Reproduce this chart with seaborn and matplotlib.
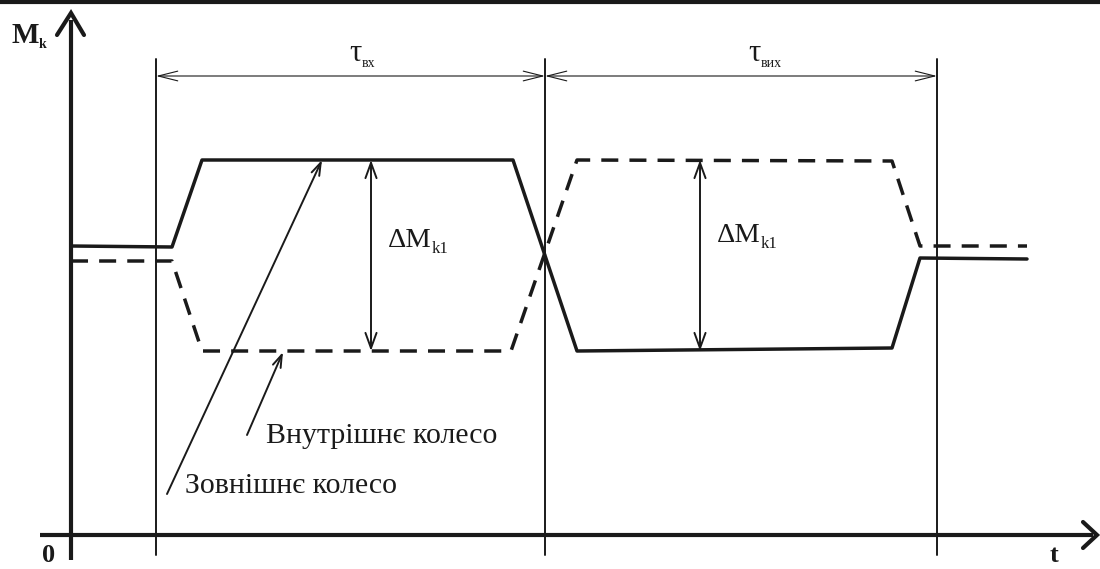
import pandas as pd
import matplotlib.pyplot as plt
import seaborn as sns

# breakpoints of the torque curves (t, M in drawing units, origin at axis crossing)
t_outer = [71, 172, 202, 513, 577, 892, 920, 1027]
m_outer = [289, 288, 375, 375, 184, 187, 277, 276]
t_inner = [71, 172, 202, 511, 577, 892, 920, 1027]
m_inner = [274, 274, 184, 184, 375, 374, 289, 289]

# interval boundaries on the time axis
t_bounds = [156, 545, 937]
interval_labels = ["вх", "вих"]
dm_t = [371, 700]
dm_low, dm_high = 184, 375

sns.set_style("white")
plt.rcParams['font.family'] = ['Liberation Serif', 'DejaVu Serif']

df_outer = pd.DataFrame({"t": t_outer, "M": m_outer})
df_inner = pd.DataFrame({"t": t_inner, "M": m_inner})

fig = plt.figure(figsize=(11, 5.69), dpi=100)
ax = fig.add_axes([0, 0, 1, 1])
ax.set_xlim(0, 1100)
ax.set_ylim(-34, 535)
ax.axis("off")

ink = "#1a1a1a"

sns.lineplot(data=df_outer, x="t", y="M", sort=False, color=ink, lw=2.5, ax=ax)
sns.lineplot(data=df_inner, x="t", y="M", sort=False, color=ink, lw=2.5, ax=ax,
             dashes=False, linestyle=(0, (4.9, 3.2)))

# top border strip
ax.axhline(533.5, color=ink, lw=3)

# axes with open arrows
ax.plot([71, 71], [-25, 515], color=ink, lw=3, solid_capstyle="butt")
ax.plot([57, 71, 84], [500, 522, 500], color=ink, lw=3, solid_joinstyle="miter")
ax.plot([40, 1093], [0, 0], color=ink, lw=3, solid_capstyle="butt")
ax.plot([1083, 1097, 1083], [13, 0, -13], color=ink, lw=3, solid_joinstyle="miter")

# vertical boundaries
for tb in t_bounds:
    ax.plot([tb, tb], [-20, 476], color=ink, lw=1.4)

# dimension lines for the intervals
for (a, b), lab in zip(zip(t_bounds[:-1], t_bounds[1:]), interval_labels):
    ax.annotate("", xy=(b, 459), xytext=(a, 459),
                arrowprops=dict(arrowstyle="<->,head_length=1.4,head_width=0.35",
                                color=ink, lw=0.8, shrinkA=0, shrinkB=0))
xs_tau = [349, 748]
for xt, lab in zip(xs_tau, interval_labels):
    ax.text(xt, 474, "τ", fontsize=22, color=ink, va="baseline", ha="left")
    ax.text(xt + 13, 468, lab, fontsize=10, color=ink, va="baseline", ha="left")

# delta M arrows
for xd in dm_t:
    ax.annotate("", xy=(xd, dm_high), xytext=(xd, dm_low),
                arrowprops=dict(arrowstyle="<->,head_length=1.1,head_width=0.4",
                                color=ink, lw=1.4, shrinkA=0, shrinkB=0))
for xl, yb in [(388, 288), (717, 293)]:
    ax.text(xl, yb, "ΔM", fontsize=20.5, color=ink, va="baseline", ha="left")
    ax.text(xl + 44, yb - 6, "k1", fontsize=12, color=ink, va="baseline", ha="left")

# leader arrows
ax.annotate("", xy=(322, 375), xytext=(167, 41),
            arrowprops=dict(arrowstyle="->,head_length=0.9,head_width=0.3",
                            color=ink, lw=1.4, shrinkA=0, shrinkB=0))
ax.annotate("", xy=(283, 183), xytext=(247, 100),
            arrowprops=dict(arrowstyle="->,head_length=0.9,head_width=0.3",
                            color=ink, lw=1.4, shrinkA=0, shrinkB=0))
ax.text(266, 92, "Внутрішнє колесо", fontsize=21.5, color=ink, va="baseline", ha="left")
ax.text(185, 42, "Зовнішнє колесо", fontsize=21.5, color=ink, va="baseline", ha="left")

# axis names
ax.text(12, 492, "M", fontsize=21, fontweight="bold", color=ink, va="baseline", ha="left")
ax.text(39, 487, "k", fontsize=10, fontweight="bold", color=ink, va="baseline", ha="left")
ax.text(42, -27, "0", fontsize=19, fontweight="bold", color=ink, va="baseline", ha="left")
ax.text(1050, -27, "t", fontsize=19, fontweight="bold", color=ink, va="baseline", ha="left")

fig.savefig("out.png", dpi=100)
